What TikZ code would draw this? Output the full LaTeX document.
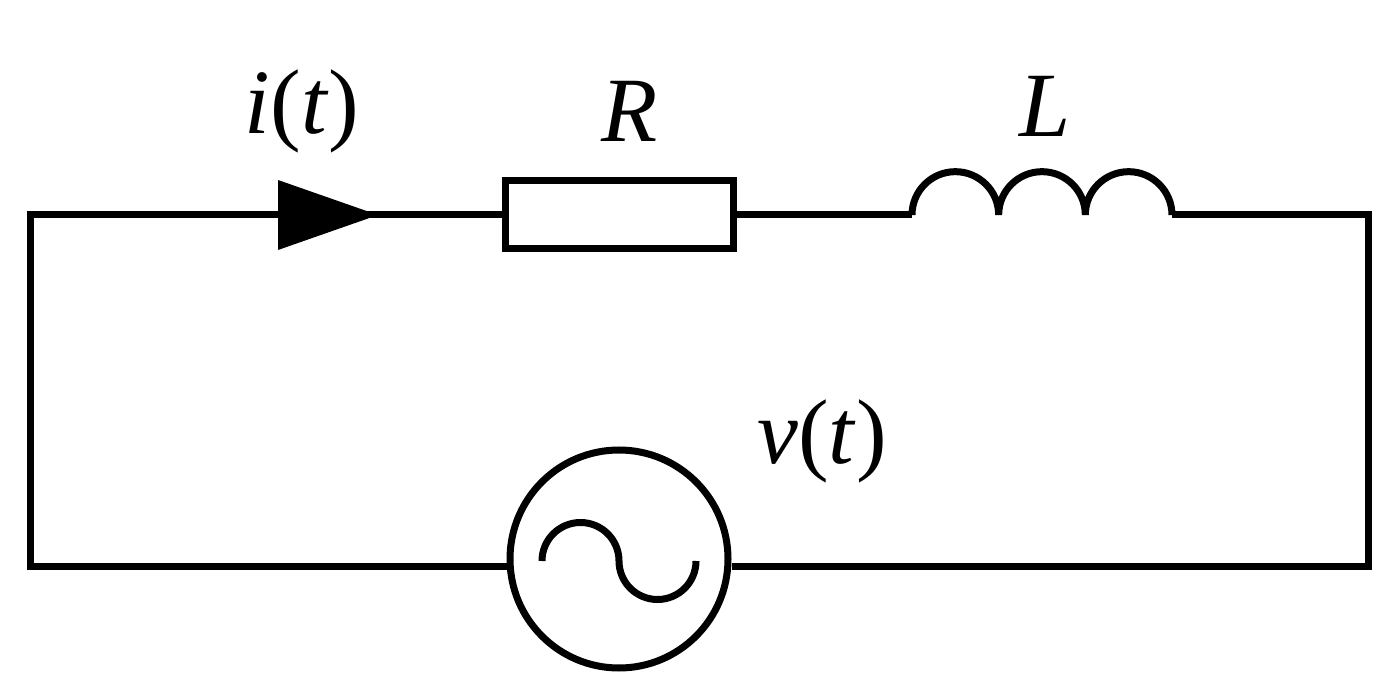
\documentclass[tikz,border=0pt]{standalone}
\usepackage{fontspec}
\setmainfont{Liberation Serif}
\begin{document}
\begin{tikzpicture}[x=1pt,y=1pt,line width=7pt,
  lab/.style={font=\fontsize{92}{94}\selectfont,inner sep=0}]
\useasboundingbox (0,0) rectangle (1397,691);
\coordinate (tl) at (30,476);
\coordinate (tr) at (1368,476);
\coordinate (bl) at (30,125);
\coordinate (br) at (1368,125);
\node[draw,minimum width=228pt,minimum height=68pt,inner sep=0] (R) at (619,476) {};
\coordinate (L1) at (912,476);
\coordinate (L2) at (1172,476);
\node[draw,circle,minimum size=218pt,inner sep=0] (V) at (619,132) {};
\draw (R.west) -- (tl) -- (bl) -- (bl -| V.west);
\draw (R.east) -- (L1);
\draw (L2) -- (tr) -- (br) -- (br -| V.east);
\draw (L1) arc[start angle=180,end angle=0,radius=43.33]
  arc[start angle=180,end angle=0,radius=43.33]
  arc[start angle=180,end angle=0,radius=43.33];
\fill (378,476) -- (278,511) -- (278,441) -- cycle;
\draw (542,130) arc[start angle=180,end angle=0,radius=38.5]
  arc[start angle=180,end angle=360,radius=38.5];
\node[lab] (i) at (302,580) {\textit{i}(\textit{t})};
\node[lab] (Rl) at (630,580) {\textit{R}};
\node[lab] (Ll) at (1045,585) {\textit{L}};
\node[lab] (v) at (822,250) {\textit{v}(\textit{t})};
\end{tikzpicture}
\end{document}
